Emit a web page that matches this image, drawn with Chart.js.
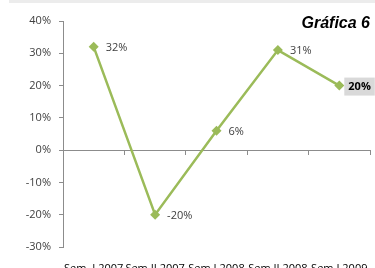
<!DOCTYPE html>
<html>
<head>
<meta charset="utf-8">
<script src="https://cdn.jsdelivr.net/npm/chart.js@4"></script>
<style>
  html, body { margin: 0; padding: 0; background: #fff; overflow: hidden; }
  #wrap { position: relative; width: 375px; height: 280px; }
  #band { position: absolute; left: 9px; top: 0; width: 366px; height: 3px; background: #ececec; }
</style>
</head>
<body>
<div id="wrap">
  <div id="band"></div>
  <canvas id="chart" width="375" height="280"></canvas>
</div>
<script>
// Data
const categories = ['Sem. I 2007', 'Sem.II 2007', 'Sem.I 2008', 'Sem.II 2008', 'Sem.I 2009'];
const values = [32, -20, 6, 31, 20];
const yTicks = [-30, -20, -10, 0, 10, 20, 30, 40];

const GREEN = '#9bbb59';
const TEXT = '#404040';
const AXIS = '#8c8c8c';
const FONT = "'Open Sans', 'DejaVu Sans', sans-serif";

// data labels, category labels and title
const labelPlugin = {
    id: 'labels',
    afterDatasetsDraw(chart) {
        const ctx = chart.ctx;
        const meta = chart.getDatasetMeta(0);
        const xs = chart.scales.x;
        ctx.save();
        ctx.textBaseline = 'middle';
        ctx.textAlign = 'left';
        meta.data.forEach((pt, i) => {
            const txt = values[i] + '%';
            const last = i === values.length - 1;
            if (last) {
                ctx.font = 'bold 11px ' + FONT;
                const w = ctx.measureText(txt).width;
                ctx.fillStyle = '#d9d9d9';
                ctx.fillRect(pt.x + 5, pt.y - 8, w + 8, 18);
                ctx.fillStyle = '#000';
                ctx.fillText(txt, pt.x + 9, pt.y + 1);
            } else {
                ctx.font = '11px ' + FONT;
                ctx.fillStyle = TEXT;
                ctx.fillText(txt, pt.x + 12, pt.y + 1);
            }
        });
        // category labels at the bottom
        ctx.font = '11px ' + FONT;
        ctx.fillStyle = '#000';
        ctx.textAlign = 'center';
        ctx.textBaseline = 'top';
        categories.forEach((c, i) => {
            ctx.fillText(c, xs.getPixelForValue(i), chart.chartArea.bottom + 16);
        });
        // title
        ctx.font = 'italic bold 16px "Liberation Sans", Arial, sans-serif';
        ctx.fillStyle = '#000';
        ctx.textAlign = 'right';
        ctx.textBaseline = 'alphabetic';
        ctx.fillText('Gráfica 6', 370, 28);
        ctx.restore();
    }
};

new Chart(document.getElementById('chart'), {
    type: 'line',
    data: {
        labels: categories,
        datasets: [{
            data: values,
            borderColor: GREEN,
            backgroundColor: GREEN,
            borderWidth: 2.5,
            pointStyle: 'rectRot',
            pointRadius: 5,
            pointBorderWidth: 0,
            tension: 0
        }]
    },
    options: {
        responsive: false,
        animation: false,
        layout: { padding: { top: 21, right: -3, left: 0, bottom: 33 } },
        plugins: { legend: { display: false }, tooltip: { enabled: false } },
        scales: {
            x: {
                type: 'category',
                offset: true,
                position: { y: 0 },
                grid: { display: true, offset: true, drawOnChartArea: false, drawTicks: true, tickLength: 4, color: AXIS },
                border: { display: true, color: AXIS, width: 1 },
                ticks: { display: false }
            },
            y: {
                min: yTicks[0],
                max: yTicks[yTicks.length - 1],
                afterBuildTicks: (s) => { s.ticks = yTicks.map(v => ({ value: v })); },
                afterFit: (s) => { s.width = 63; },
                grid: { display: true, drawOnChartArea: false, drawTicks: true, tickLength: 4, color: AXIS },
                border: { display: true, color: AXIS, width: 1 },
                ticks: {
                    color: TEXT,
                    font: { family: FONT, size: 11 },
                    padding: 8,
                    callback: (v) => v + '%'
                }
            }
        }
    },
    plugins: [labelPlugin]
});
</script>
</body>
</html>
